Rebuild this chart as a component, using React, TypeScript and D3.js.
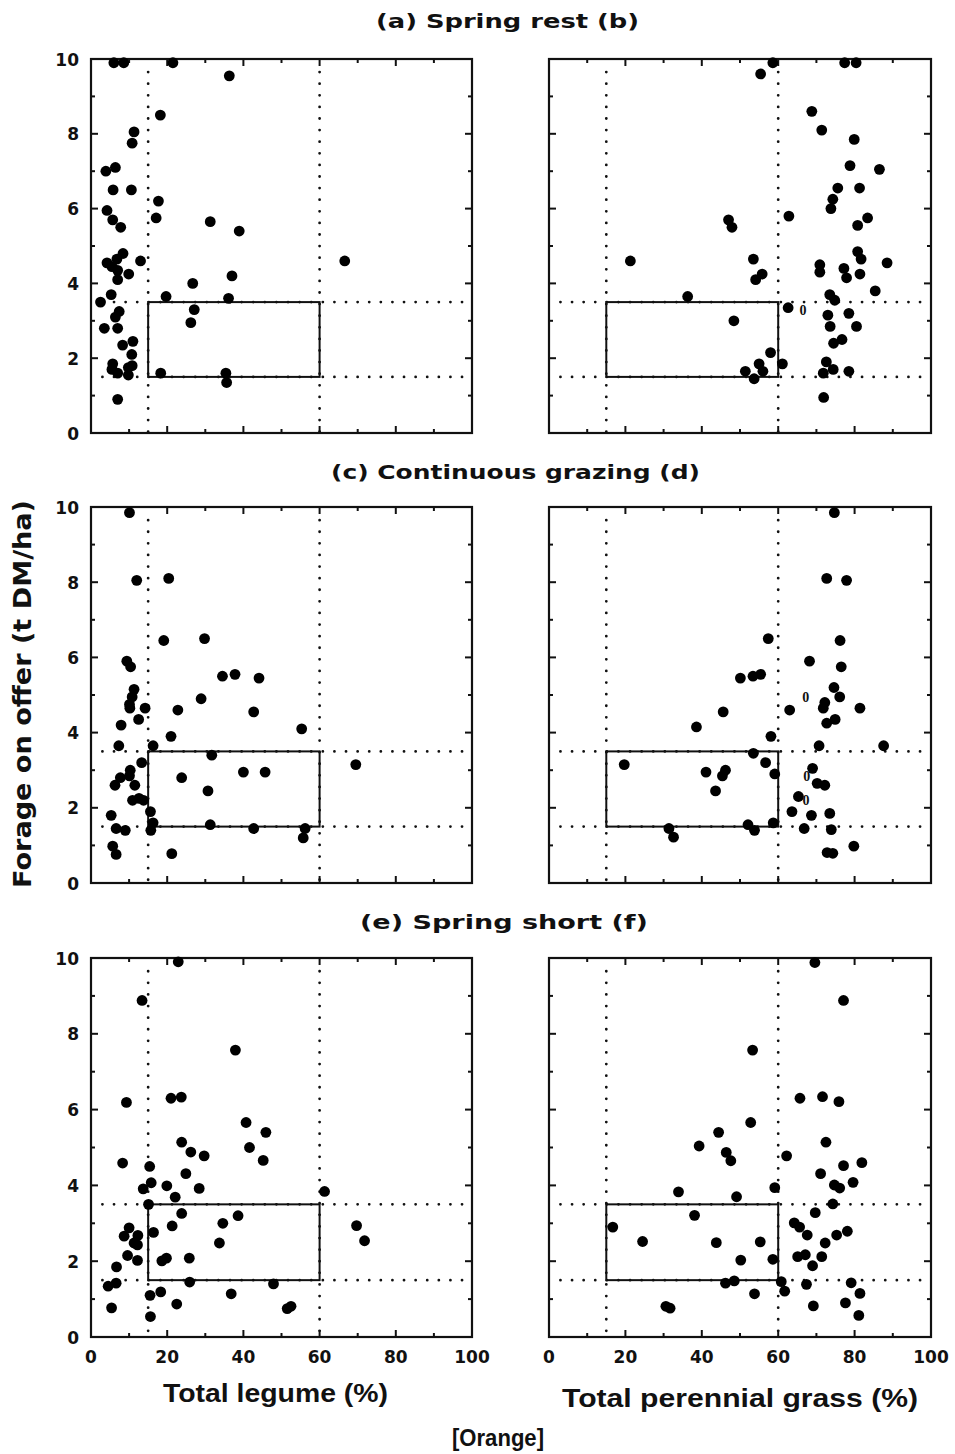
import React from 'react';
import * as d3 from 'd3';

type Pt = [number, number];

// Axis ticks shared by every panel
const xMajor = [0, 20, 40, 60, 80, 100];
const xMinor = [10, 30, 50, 70, 90];
const yMajor = [0, 2, 4, 6, 8, 10];
const yMinor = [1, 3, 5, 7, 9];

// Target window: legume / grass bounds (%) and forage bounds (t DM/ha)
const boxX: [number, number] = [15, 60];
const boxY: [number, number] = [1.5, 3.5];

const rowTitles = [
  { left: '(a)', name: 'Spring rest', right: '(b)' },
  { left: '(c)', name: 'Continuous grazing', right: '(d)' },
  { left: '(e)', name: 'Spring short', right: '(f)' },
];

// (a) Spring rest — total legume (%) vs forage on offer
const springRestLegume: Pt[] = [
  [6.0, 9.9], [8.6, 9.9], [21.5, 9.9], [36.3, 9.55], [18.2, 8.5], [11.3, 8.05], [10.8, 7.75],
  [3.9, 7.0], [6.4, 7.1], [5.8, 6.5], [10.6, 6.5], [4.2, 5.95], [17.7, 6.2], [5.7, 5.7],
  [17.1, 5.75], [7.8, 5.5], [31.3, 5.65], [38.9, 5.4], [8.4, 4.8], [6.8, 4.65], [4.2, 4.55],
  [5.5, 4.45], [13.0, 4.6], [66.6, 4.6], [7.0, 4.35], [7.0, 4.1], [9.9, 4.25], [37.0, 4.2],
  [26.7, 4.0], [5.3, 3.7], [19.7, 3.65], [36.1, 3.6], [2.5, 3.5], [7.4, 3.25], [6.4, 3.1],
  [27.1, 3.3], [26.2, 2.95], [3.5, 2.8], [7.0, 2.8], [8.3, 2.35], [11.0, 2.45], [10.7, 2.1],
  [5.7, 1.85], [10.8, 1.8], [9.8, 1.75], [5.5, 1.7], [7.0, 1.6], [9.8, 1.55], [18.3, 1.6],
  [35.4, 1.6], [35.6, 1.35], [7.0, 0.9],
];

// (b) Spring rest — total perennial grass (%)
const springRestGrass: Pt[] = [
  [58.6, 9.9], [77.4, 9.9], [80.4, 9.9], [55.4, 9.6], [68.8, 8.6], [71.4, 8.1], [79.9, 7.85],
  [78.8, 7.15], [86.5, 7.05], [75.6, 6.55], [81.3, 6.55], [74.3, 6.25], [73.8, 6.0], [62.8, 5.8],
  [83.4, 5.75], [80.8, 5.55], [47.0, 5.7], [47.9, 5.5], [21.3, 4.6], [53.5, 4.65], [55.8, 4.25],
  [54.1, 4.1], [70.9, 4.5], [70.9, 4.3], [80.8, 4.85], [81.7, 4.65], [88.5, 4.55], [77.2, 4.4],
  [77.9, 4.15], [81.4, 4.25], [85.4, 3.8], [73.5, 3.7], [74.8, 3.55], [36.3, 3.65], [62.6, 3.35],
  [73.0, 3.15], [78.5, 3.2], [73.6, 2.85], [80.5, 2.85], [48.4, 3.0], [76.7, 2.5], [74.5, 2.4],
  [58.0, 2.15], [55.0, 1.85], [61.1, 1.85], [72.6, 1.9], [51.4, 1.65], [56.0, 1.65], [71.8, 1.6],
  [74.4, 1.7], [78.5, 1.65], [53.7, 1.45], [71.9, 0.95],
];
const springRestGrassOpen: Pt[] = [[66.5, 3.3]];

// (c) Continuous grazing — total legume (%)
const continuousLegume: Pt[] = [
  [10.1, 9.85], [12.0, 8.05], [20.4, 8.1], [19.1, 6.45], [29.8, 6.5], [9.4, 5.9], [10.4, 5.75],
  [34.5, 5.5], [37.8, 5.55], [44.1, 5.45], [11.3, 5.15], [10.8, 4.95], [28.9, 4.9], [10.1, 4.75],
  [10.2, 4.65], [14.2, 4.65], [22.8, 4.6], [42.7, 4.55], [12.5, 4.35], [7.9, 4.2], [55.3, 4.1],
  [21.0, 3.9], [7.3, 3.65], [16.3, 3.65], [31.7, 3.4], [13.3, 3.2], [69.5, 3.15], [10.3, 3.0],
  [10.1, 2.85], [7.7, 2.8], [23.8, 2.8], [40.0, 2.95], [45.7, 2.95], [6.3, 2.6], [11.5, 2.6],
  [30.7, 2.45], [12.6, 2.25], [13.8, 2.2], [10.9, 2.2], [5.3, 1.8], [15.6, 1.9], [16.3, 1.6],
  [15.7, 1.4], [31.3, 1.55], [42.7, 1.45], [6.6, 1.45], [9.0, 1.4], [56.2, 1.45], [55.7, 1.2],
  [5.7, 0.98], [6.6, 0.76], [21.2, 0.78],
];

// (d) Continuous grazing — total perennial grass (%)
const continuousGrass: Pt[] = [
  [74.7, 9.85], [72.7, 8.1], [77.9, 8.05], [57.4, 6.5], [76.2, 6.45], [68.2, 5.9], [76.5, 5.75],
  [50.1, 5.45], [53.4, 5.5], [55.4, 5.55], [74.6, 5.2], [76.1, 4.95], [72.2, 4.8], [71.8, 4.65],
  [81.4, 4.65], [63.0, 4.6], [45.6, 4.55], [74.9, 4.35], [72.7, 4.25], [38.6, 4.15], [58.1, 3.9],
  [70.7, 3.65], [87.6, 3.65], [53.5, 3.45], [19.7, 3.15], [56.7, 3.2], [69.0, 3.05], [41.1, 2.95],
  [46.2, 3.0], [45.4, 2.85], [59.1, 2.9], [70.2, 2.65], [72.2, 2.6], [43.6, 2.45], [65.3, 2.3],
  [63.6, 1.9], [68.7, 1.8], [73.5, 1.85], [52.1, 1.55], [53.8, 1.4], [58.7, 1.6], [31.4, 1.45],
  [32.6, 1.22], [66.8, 1.45], [73.9, 1.42], [79.8, 0.98], [72.8, 0.81], [74.3, 0.79],
];
const continuousGrassOpen: Pt[] = [[67.2, 4.95], [67.5, 2.85], [67.3, 2.2]];

// (e) Spring short — total legume (%)
const springShortLegume: Pt[] = [
  [22.9, 9.9], [13.4, 8.88], [37.9, 7.57], [9.3, 6.19], [21.0, 6.3], [23.7, 6.33], [40.7, 5.66],
  [45.9, 5.4], [23.8, 5.14], [41.6, 5.0], [26.2, 4.88], [29.7, 4.78], [45.2, 4.66], [8.3, 4.59],
  [15.4, 4.5], [24.9, 4.31], [15.8, 4.07], [19.9, 3.99], [13.7, 3.91], [28.4, 3.92], [61.3, 3.84],
  [22.1, 3.69], [15.1, 3.5], [23.8, 3.26], [38.6, 3.2], [34.6, 3.0], [69.7, 2.94], [21.3, 2.93],
  [10.0, 2.88], [16.4, 2.76], [8.7, 2.66], [12.3, 2.68], [71.8, 2.54], [11.3, 2.48], [12.2, 2.43],
  [33.7, 2.48], [9.6, 2.15], [25.8, 2.08], [19.8, 2.08], [18.6, 2.01], [12.2, 2.02], [6.7, 1.85],
  [6.6, 1.42], [4.5, 1.34], [25.9, 1.45], [47.9, 1.4], [15.5, 1.1], [18.3, 1.19], [36.8, 1.14],
  [5.4, 0.77], [22.5, 0.87], [51.5, 0.75], [52.5, 0.81], [15.6, 0.54],
];

// (f) Spring short — total perennial grass (%)
const springShortGrass: Pt[] = [
  [69.6, 9.88], [77.1, 8.88], [53.3, 7.57], [65.7, 6.3], [71.6, 6.34], [75.9, 6.21], [52.8, 5.66],
  [44.4, 5.4], [39.3, 5.04], [72.5, 5.14], [46.4, 4.87], [47.6, 4.65], [62.2, 4.78], [81.9, 4.6],
  [77.1, 4.52], [71.1, 4.31], [79.6, 4.08], [74.7, 4.01], [76.1, 3.93], [59.1, 3.94], [33.9, 3.83],
  [49.1, 3.7], [74.3, 3.51], [69.7, 3.28], [38.1, 3.21], [16.7, 2.9], [64.2, 3.01], [65.6, 2.9],
  [78.1, 2.79], [67.6, 2.69], [75.3, 2.69], [24.5, 2.52], [43.8, 2.49], [55.3, 2.51], [72.3, 2.48],
  [65.1, 2.12], [67.1, 2.17], [71.4, 2.12], [50.2, 2.03], [58.6, 2.05], [69.0, 1.88], [46.2, 1.42],
  [48.5, 1.48], [60.8, 1.46], [67.4, 1.39], [79.1, 1.43], [61.7, 1.21], [53.8, 1.14], [81.4, 1.15],
  [77.6, 0.9], [69.2, 0.82], [30.6, 0.81], [31.7, 0.76], [81.1, 0.57],
];

const panelData: { pts: Pt[]; open: Pt[] }[][] = [
  [{ pts: springRestLegume, open: [] }, { pts: springRestGrass, open: springRestGrassOpen }],
  [{ pts: continuousLegume, open: [] }, { pts: continuousGrass, open: continuousGrassOpen }],
  [{ pts: springShortLegume, open: [] }, { pts: springShortGrass, open: [] }],
];

const WIDE = '"DejaVu Sans", Verdana, sans-serif';
const NARROW = '"Liberation Sans Narrow", "Liberation Sans", Arial, sans-serif';

const rows = [
  { top: 59, bottom: 433 },
  { top: 507, bottom: 883 },
  { top: 958, bottom: 1337 },
];
const cols = [
  { left: 91, right: 472 },
  { left: 549, right: 931 },
];

interface PanelProps {
  left: number;
  right: number;
  top: number;
  bottom: number;
  pts: Pt[];
  open: Pt[];
  yLabels: boolean;
  xLabels: boolean;
}

function Panel({ left, right, top, bottom, pts, open, yLabels, xLabels }: PanelProps) {
  const x = d3.scaleLinear().domain([0, 100]).range([left, right]);
  const y = d3.scaleLinear().domain([0, 10]).range([bottom, top]);
  const dot = { stroke: '#111', strokeWidth: 2.8, strokeLinecap: 'round' as const, strokeDasharray: '0 11.6' };
  const majLen = 7;
  const minLen = 4;
  return (
    <g>
      {/* dotted guide lines */}
      {boxX.map((v) => (
        <line key={'vx' + v} x1={x(v)} x2={x(v)} y1={y(9.65)} y2={y(0)} {...dot} />
      ))}
      {boxY.map((v) => (
        <line key={'hy' + v} x1={x(3)} x2={x(98)} y1={y(v)} y2={y(v)} {...dot} />
      ))}
      {/* target window */}
      <rect
        x={x(boxX[0])}
        y={y(boxY[1])}
        width={x(boxX[1]) - x(boxX[0])}
        height={y(boxY[0]) - y(boxY[1])}
        fill="none"
        stroke="#111"
        strokeWidth={2}
      />
      {/* ticks, inward on all four sides */}
      {xMajor.map((v) => (
        <g key={'xm' + v} stroke="#111" strokeWidth={2}>
          <line x1={x(v)} x2={x(v)} y1={bottom} y2={bottom - majLen} />
          <line x1={x(v)} x2={x(v)} y1={top} y2={top + majLen} />
        </g>
      ))}
      {xMinor.map((v) => (
        <g key={'xn' + v} stroke="#111" strokeWidth={2}>
          <line x1={x(v)} x2={x(v)} y1={bottom} y2={bottom - minLen} />
          <line x1={x(v)} x2={x(v)} y1={top} y2={top + minLen} />
        </g>
      ))}
      {yMajor.map((v) => (
        <g key={'ym' + v} stroke="#111" strokeWidth={2}>
          <line x1={left} x2={left + majLen} y1={y(v)} y2={y(v)} />
          <line x1={right} x2={right - majLen} y1={y(v)} y2={y(v)} />
        </g>
      ))}
      {yMinor.map((v) => (
        <g key={'yn' + v} stroke="#111" strokeWidth={2}>
          <line x1={left} x2={left + minLen} y1={y(v)} y2={y(v)} />
          <line x1={right} x2={right - minLen} y1={y(v)} y2={y(v)} />
        </g>
      ))}
      {/* frame */}
      <rect x={left} y={top} width={right - left} height={bottom - top} fill="none" stroke="#111" strokeWidth={2.2} />
      {/* observations */}
      {pts.map((p, i) => (
        <circle key={'p' + i} cx={x(p[0])} cy={y(p[1])} r={5.4} fill="#000" />
      ))}
      {open.map((p, i) => (
        <text
          key={'o' + i}
          x={x(p[0])}
          y={y(p[1]) + 5}
          textAnchor="middle"
          fontFamily='"Liberation Serif", "DejaVu Serif", serif'
          fontWeight="bold"
          fontSize={14}
          fill="#111"
        >
          0
        </text>
      ))}
      {yLabels &&
        yMajor.map((v) => (
          <text
            key={'yl' + v}
            x={left - 12}
            y={y(v) + 6.5}
            textAnchor="end"
            fontFamily={WIDE}
            fontWeight="bold"
            fontSize={17}
            fill="#111"
          >
            {v}
          </text>
        ))}
      {xLabels &&
        xMajor.map((v) => (
          <text
            key={'xl' + v}
            x={x(v)}
            y={bottom + 26}
            textAnchor="middle"
            fontFamily={WIDE}
            fontWeight="bold"
            fontSize={17}
            fill="#111"
          >
            {v}
          </text>
        ))}
    </g>
  );
}

const titleLayout = [
  { x: 376, y: 28, len: 263 },
  { x: 331, y: 479, len: 369 },
  { x: 360, y: 929, len: 288 },
];

export default function App() {
  return (
    <svg
      width={955}
      height={1454}
      viewBox="0 0 955 1454"
      style={{ position: 'absolute', left: 0, top: 0, background: '#fff' }}
    >
      <rect x={0} y={0} width={955} height={1454} fill="#fff" />
      {rowTitles.map((t, r) => (
        <text
          key={'t' + r}
          x={titleLayout[r].x}
          y={titleLayout[r].y}
          textLength={titleLayout[r].len}
          lengthAdjust="spacingAndGlyphs"
          fontFamily={WIDE}
          fontWeight="bold"
          fontSize={20}
          fill="#111"
        >
          {`${t.left} ${t.name} ${t.right}`}
        </text>
      ))}
      {rows.map((row, r) =>
        cols.map((col, c) => (
          <Panel
            key={`p${r}${c}`}
            left={col.left}
            right={col.right}
            top={row.top}
            bottom={row.bottom}
            pts={panelData[r][c].pts}
            open={panelData[r][c].open}
            yLabels={c === 0}
            xLabels={r === 2}
          />
        ))
      )}
      <text
        transform="translate(31,694) rotate(-90)"
        textAnchor="middle"
        textLength={388}
        lengthAdjust="spacingAndGlyphs"
        fontFamily={WIDE}
        fontWeight="bold"
        fontSize={24}
        fill="#111"
      >
        Forage on offer (t DM/ha)
      </text>
      <text
        x={163}
        y={1402}
        textLength={225}
        lengthAdjust="spacingAndGlyphs"
        fontFamily={NARROW}
        fontWeight="bold"
        fontSize={25}
        fill="#111"
      >
        Total legume (%)
      </text>
      <text
        x={562}
        y={1407}
        textLength={356}
        lengthAdjust="spacingAndGlyphs"
        fontFamily={NARROW}
        fontWeight="bold"
        fontSize={25}
        fill="#111"
      >
        Total perennial grass (%)
      </text>
      <text
        x={452}
        y={1446}
        textLength={92}
        lengthAdjust="spacingAndGlyphs"
        fontFamily={NARROW}
        fontWeight="bold"
        fontSize={24}
        fill="#111"
      >
        [Orange]
      </text>
    </svg>
  );
}
